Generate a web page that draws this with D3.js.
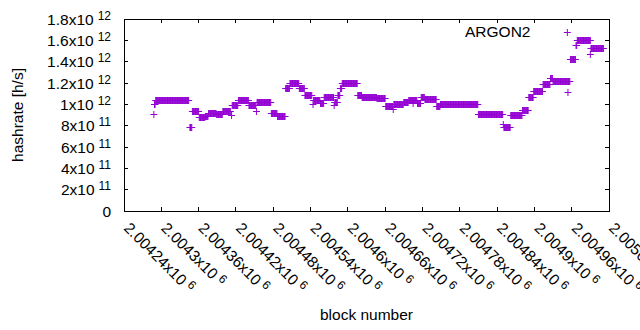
<!DOCTYPE html>
<html>
<head>
<meta charset="utf-8">
<script src="https://cdn.jsdelivr.net/npm/d3@7"></script>
<style>
  body { margin: 0; background: #fff; }
  svg { display: block; font-family: "Liberation Sans", Arial, sans-serif; }
</style>
</head>
<body>
<div id="chart"></div>
<script>
// Runs of consecutive blocks that share one hashrate value (x10^12 h/s).
const runStart = [2004289, 2004291, 2004346, 2004350, 2004361, 2004371, 2004376, 2004389, 2004399, 2004414,
                  2004424, 2004441, 2004454, 2004477, 2004487, 2004500, 2004507, 2004522, 2004531, 2004545,
                  2004556, 2004562, 2004579, 2004584, 2004588, 2004591, 2004616, 2004623, 2004635, 2004647,
                  2004661, 2004674, 2004690, 2004698, 2004712, 2004718, 2004724, 2004743, 2004749, 2004810,
                  2004851, 2004862, 2004881, 2004891, 2004899, 2004914, 2004926, 2004930, 2004958, 2004967,
                  2004969, 2004991];
const runEnd   = [2004290, 2004344, 2004349, 2004360, 2004370, 2004375, 2004388, 2004398, 2004411, 2004423,
                  2004440, 2004452, 2004476, 2004486, 2004499, 2004506, 2004521, 2004530, 2004542, 2004555,
                  2004561, 2004577, 2004583, 2004587, 2004590, 2004615, 2004622, 2004634, 2004646, 2004660,
                  2004672, 2004689, 2004697, 2004711, 2004717, 2004723, 2004742, 2004748, 2004809, 2004849,
                  2004861, 2004880, 2004890, 2004898, 2004913, 2004925, 2004929, 2004957, 2004966, 2004968,
                  2004990, 2005011];
const runValue = [1.002, 1.036, 0.790, 0.935, 0.877, 0.895, 0.922, 0.905, 0.935, 0.990,
                  1.038, 0.994, 1.020, 0.916, 0.890, 1.150, 1.197, 1.150, 1.085, 1.044,
                  1.010, 1.069, 1.020, 1.090, 1.150, 1.197, 1.092, 1.072, 1.066, 1.055,
                  0.980, 1.000, 1.025, 1.044, 1.010, 1.070, 1.047, 0.980, 1.000, 0.906,
                  0.788, 0.903, 0.950, 1.072, 1.123, 1.186, 1.245, 1.220, 1.422, 1.560,
                  1.600, 1.525];

// Single blocks off the runs.
const outlierBlock = [2004288, 2004413, 2004453, 2004544, 2004578, 2004673, 2004705, 2004850, 2004953, 2004954, 2004990];
const outlierValue = [0.909, 0.900, 0.935, 1.000, 0.990, 0.956, 1.010, 0.816, 1.675, 1.118, 1.470];

const xTicks = [2004240, 2004300, 2004360, 2004420, 2004480, 2004540, 2004600,
                2004660, 2004720, 2004780, 2004840, 2004900, 2004960, 2005020];
const yTicks = [0, 2e11, 4e11, 6e11, 8e11, 1e12, 1.2e12, 1.4e12, 1.6e12, 1.8e12];

const seriesName = "ARGON2";
const color = "#9400d3";

chart();

/*
Draw the chart.
*/
function chart() {
    const width = 640;
    const height = 330;
    const margin = { top: 19, right: 31, bottom: 119, left: 124 };

    const x = d3.scaleLinear()
        .domain([2004240, 2005020])
        .range([margin.left, width - margin.right]);
    const y = d3.scaleLinear()
        .domain([0, 1.8e12])
        .range([height - margin.bottom, margin.top]);

    const points = buildPoints();

    const svg = d3.create("svg")
        .attr("width", width)
        .attr("height", height)
        .attr("viewBox", [0, 0, width, height]);

    const x0 = x.range()[0], x1 = x.range()[1];
    const y0 = y.range()[0], y1 = y.range()[1];
    const tick = 4;

    // Tick marks, mirrored on all four sides.
    const ticks = svg.append("g")
        .attr("stroke", "#000")
        .attr("stroke-width", 1)
        .attr("shape-rendering", "crispEdges");
    ticks.selectAll(".yt")
        .data(yTicks)
        .join("path")
            .attr("d", d => `M${x0},${y(d)}h${tick}M${x1},${y(d)}h${-tick}`);
    ticks.selectAll(".xt")
        .data(xTicks)
        .join("path")
            .attr("d", d => `M${x(d)},${y0}v${-tick}M${x(d)},${y1}v${tick}`);

    // Data points: one "+" per block.
    svg.append("g")
        .attr("stroke", color)
        .attr("stroke-width", 1)
        .attr("fill", "none")
        .selectAll("path")
        .data(points)
        .join("path")
            .attr("d", d => {
                const px = x(d.block), py = Math.round(y(d.value)) + 0.5;
                return `M${px - 3.5},${py}h7M${px},${py - 3.5}v7`;
            });

    // Frame.
    svg.append("rect")
        .attr("x", x0 + 0.5)
        .attr("y", y1 + 0.5)
        .attr("width", x1 - x0)
        .attr("height", y0 - y1)
        .attr("fill", "none")
        .attr("stroke", "#000");

    // Y tick labels.
    const yLab = svg.append("g")
        .attr("font-size", 15.5)
        .attr("text-anchor", "end");
    yTicks.forEach(v => {
        const t = yLab.append("text")
            .attr("x", 111)
            .attr("y", y(v) + 5.5);
        sciLabel(t, v);
    });

    // X tick labels, rotated.
    const xLab = svg.append("g")
        .attr("font-size", 15.5);
    xTicks.forEach(v => {
        const t = xLab.append("text")
            .attr("transform", `translate(${x(v) - 1},${y0 + 18}) rotate(45)`);
        sciLabel(t, v);
    });

    // Axis titles.
    svg.append("text")
        .attr("x", (x0 + x1) / 2)
        .attr("y", 320)
        .attr("text-anchor", "middle")
        .attr("font-size", 15.5)
        .text("block number");
    svg.append("text")
        .attr("transform", `translate(23,${(y0 + y1) / 2}) rotate(-90)`)
        .attr("text-anchor", "middle")
        .attr("font-size", 15.5)
        .text("hashrate [h/s]");

    // Key.
    svg.append("text")
        .attr("x", 465)
        .attr("y", 37)
        .attr("font-size", 15.5)
        .text(seriesName);

    document.getElementById("chart").appendChild(svg.node());
}


/*
Expand the runs into one point per block.
*/
function buildPoints() {
    const points = [];
    runStart.forEach((s, i) => {
        for (let b = s; b <= runEnd[i]; b++) {
            points.push({ block: b, value: runValue[i] * 1e12 });
        }
    });
    outlierBlock.forEach((b, i) => points.push({ block: b, value: outlierValue[i] * 1e12 }));
    return points;
}


/*
Write a gnuplot style "m x10^e" label.
*/
function sciLabel(t, v) {
    if (v === 0) {
        t.text("0");
        return;
    }
    const e = Math.floor(Math.log10(v) + 1e-9);
    const m = +(v / Math.pow(10, e)).toPrecision(7);
    t.append("tspan").text(`${m}x10`);
    t.append("tspan")
        .attr("dx", 4)
        .attr("dy", -5)
        .attr("font-size", 12)
        .text(e);
}
</script>
</body>
</html>
